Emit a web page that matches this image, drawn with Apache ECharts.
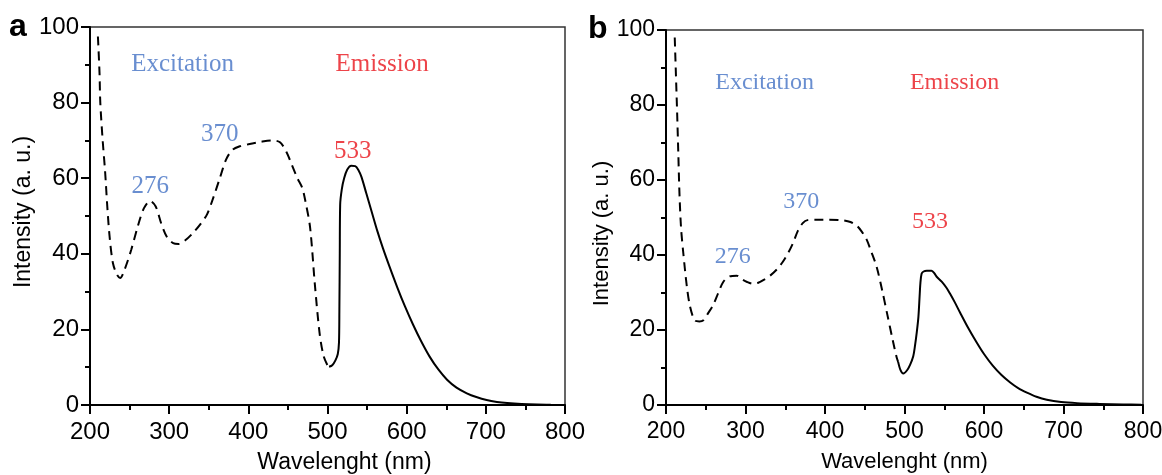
<!DOCTYPE html>
<html>
<head>
<meta charset="utf-8">
<script src="https://cdn.jsdelivr.net/npm/echarts@6/dist/echarts.min.js"></script>
<style>html,body{margin:0;padding:0;background:#fff}#c{width:1162px;height:475px}</style>
</head>
<body>
<div id="c"></div>
<script>
// ---------- DATA ----------
// Panel a
const excA_x = [210,212,213,216,219,222,225,229,234,238,244,252,260,268,276,283,290,297,305,312,320,330,340,348,356,364,372,380,390,400,415,430,440,448,455,462,468,472,478,484,490,495,500,502];
const excA_y = [97.5,88,80,70,62,52,44,37.5,34.5,33.6,36,41,47,52,54,52.5,48,44.5,42.8,42.6,43.5,45.5,48,50.5,55,60,65,67.5,68.5,69,69.6,70,69.5,67,63.5,60,57.5,54,47,32,19,13,10.5,10.1];
const emA_x = [502,506,510,513,514.5,515,515.5,516,518,521,525,530,535,539,543,549,556,563,570,578,588,598,608,618,629,640,651,663,676,688,701,714,727,745,765,782];
const emA_y = [10.1,10.5,11.8,13.5,16.5,25,40,53,57,60,62.3,63.3,63.2,62.2,60.3,56,51,46,41.5,36.8,31.2,26,21.3,17,12.8,9.4,6.7,4.6,3.1,2.1,1.3,0.8,0.5,0.25,0.1,0.05];
// Panel b
const excB_x = [211,212.5,214,215.5,217,219,222,226,230,236,242,247,253,259,266,272,280,289,295,302,310,316,324,331,340,347,354,360,366,372,378,390,405,420,432,440,446,452,458,465,472,478,485,490,492];
const excB_y = [98,88,78,67,56,47,40,32,26.5,22.6,22.3,22.6,24.5,26.5,30,32.8,34.3,34.5,33.6,32.8,32.3,32.6,33.5,34.5,36.3,38.2,40.7,43.3,46.5,48.5,49.3,49.4,49.4,49.3,48.8,47.8,46.3,44.3,41,36.8,30.5,24.5,17.5,12.8,11.5];
const emB_x = [492,495,498.5,503,507,511,513,515.5,517.5,519,520,521.5,524,528,534,538,540.5,546.8,553,557,563,570,580,591,600,611,622,633,643,654,666,679,697,717,745,775,798];
const emB_y = [11.5,9.3,8.4,9.2,10.7,13,15.5,19.5,23.5,29,32.5,35,35.6,35.8,35.8,35,34.2,32.9,31.2,29.8,27.5,24.6,20.6,16.6,13.6,10.5,8.0,6.0,4.5,3.3,2.2,1.4,0.8,0.5,0.3,0.15,0.1];

// Annotations (text, anchor in data units, kind)
const annA_text = ['Excitation','Emission','276','370','533'];
const annA_x = [317,569,276,364,532];
const annA_y = [90.2,90.2,57.7,71.5,67.0];
const annB_text = ['Excitation','Emission','276','370','533'];
const annB_x = [324,563,284,370,532];
const annB_y = [85.9,85.9,39.5,54.2,48.8];
const ann_kind = ['exc','em','exc','exc','em'];

const xTicks = {min:200, max:800, interval:100};
const yTicks = {min:0, max:100, interval:20};
const xTitle = 'Wavelenght (nm)';
const yTitle = 'Intensity (a. u.)';
const panelLetters = ['a','b'];

// ---------- STYLE ----------
const BLUE = '#4472C4', RED = '#E8141C';
const zip = (xs, ys) => xs.map((x,i)=>[x, ys[i]]);

function xAxis(gi, fs, nfs, pad){
  return {
    type:'value', gridIndex:gi, min:xTicks.min, max:xTicks.max, interval:xTicks.interval,
    name:xTitle, nameLocation:'middle', nameGap:46,
    nameTextStyle:{fontFamily:'Liberation Sans', fontSize:nfs, color:'#000', padding:pad},
    axisLine:{onZero:false, lineStyle:{color:'#000', width:2}},
    axisTick:{show:true, length:9, lineStyle:{color:'#000', width:2}},
    minorTick:{show:true, splitNumber:2, length:5, lineStyle:{color:'#000', width:2}},
    axisLabel:{fontFamily:'Liberation Sans', fontSize:fs, color:'#000', margin:15},
    splitLine:{show:false}
  };
}
function yAxis(gi, fs, nfs, gap, pad){
  return {
    type:'value', gridIndex:gi, min:yTicks.min, max:yTicks.max, interval:yTicks.interval,
    name:yTitle, nameLocation:'middle', nameGap:gap, nameRotate:90,
    nameTextStyle:{fontFamily:'Liberation Sans', fontSize:nfs, color:'#000', padding:pad},
    axisLine:{onZero:false, lineStyle:{color:'#000', width:2}},
    axisTick:{show:true, length:9, lineStyle:{color:'#000', width:2}},
    minorTick:{show:true, splitNumber:2, length:5, lineStyle:{color:'#000', width:2}},
    axisLabel:{fontFamily:'Liberation Sans', fontSize:fs, color:'#000', margin:11},
    splitLine:{show:false}
  };
}
function lineSeries(gi, xs, ys, dashed){
  return {
    type:'line', xAxisIndex:gi, yAxisIndex:gi, data:zip(xs,ys), showSymbol:false, smooth:0.3,
    silent:true, animation:false,
    lineStyle:{color:'#000', width:2, type: dashed ? [9,6] : 'solid'}
  };
}
function annSeries(gi, texts, xs, ys, fs){
  return {
    type:'scatter', xAxisIndex:gi, yAxisIndex:gi, symbolSize:0, silent:true, animation:false,
    data: texts.map((t,i)=>({name:t, value:[xs[i], ys[i]],
      label:{color: ann_kind[i]==='exc' ? BLUE : RED}})),
    label:{show:true, position:'inside', formatter:p=>p.name,
      fontFamily:'Liberation Serif', fontSize:fs}
  };
}

const chart = echarts.init(document.getElementById('c'), null, {renderer:'canvas'});
chart.setOption({
  backgroundColor:'#fff',
  animation:false,
  grid:[
    {left:90, top:27, width:475, height:378, outerBoundsMode:'none', containLabel:false, show:true, borderColor:'#333', borderWidth:1.5, backgroundColor:'transparent'},
    {left:666, top:30, width:477, height:375, outerBoundsMode:'none', containLabel:false, show:true, borderColor:'#333', borderWidth:1.5, backgroundColor:'transparent'}
  ],
  xAxis:[xAxis(0,24,23,[0,0,0,34]), xAxis(1,23,22,[0,0,0,0])],
  yAxis:[yAxis(0,24,23,53,[0,0,0,8]), yAxis(1,23,22,51,[0,32,0,0])],
  series:[
    lineSeries(0, excA_x, excA_y, true),
    lineSeries(0, emA_x, emA_y, false),
    lineSeries(1, excB_x, excB_y, true),
    lineSeries(1, emB_x, emB_y, false),
    annSeries(0, annA_text, annA_x, annA_y, 25),
    annSeries(1, annB_text, annB_x, annB_y, 24)
  ],
  graphic:[
    {type:'text', left:9, top:11, style:{text:panelLetters[0], font:'bold 32px "Liberation Sans"', fill:'#000'}},
    {type:'text', left:588, top:13, style:{text:panelLetters[1], font:'bold 32px "Liberation Sans"', fill:'#000'}}
  ]
});
</script>
</body>
</html>
